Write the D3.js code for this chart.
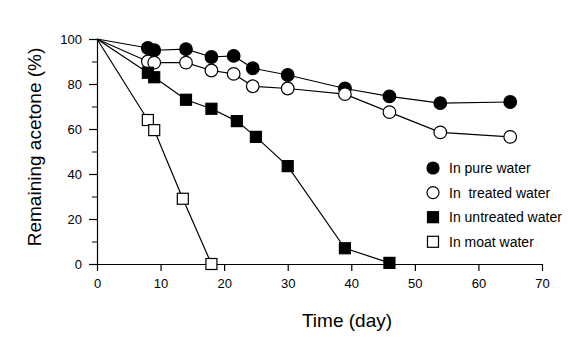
<!DOCTYPE html>
<html>
<head>
<meta charset="utf-8">
<script src="https://cdn.jsdelivr.net/npm/d3@7"></script>
<style>
  body { margin: 0; background: #fff; }
  svg { display: block; font-family: Arial, "Liberation Sans", sans-serif; }
</style>
</head>
<body>
<svg id="chart"></svg>
<script>
const width = 583;
const height = 351;

const margin = {top: 39, right: 41, bottom: 87, left: 97};
const chartWidth = width - margin.left - margin.right;
const chartHeight = height - margin.top - margin.bottom;

// [day, remaining %]
const pureWater = [[0,100],[8,96],[9,95],[14,95.5],[18,92],[21.5,92.5],[24.5,87],[30,84],[39,78],[46,74.5],[54,71.5],[65,72]];
const treatedWater = [[0,100],[8,90],[9,89.5],[14,89.5],[18,86],[21.5,84.5],[24.5,79],[30,78],[39,75.5],[46,67.5],[54,58.5],[65,56.5]];
const untreatedWater = [[0,100],[8,85],[9,83],[14,73],[18,69],[22,63.5],[25,56.5],[30,43.5],[39,7],[46,0.5]];
const moatWater = [[0,100],[8,64],[9,59.5],[13.5,29],[18,0]];

const xTicks = [0,10,20,30,40,50,60,70];
const yTicks = [0,20,40,60,80,100];
const yMinorTicks = [10,30,50,70,90];

const series = [
  {name: "In pure water", data: pureWater, shape: "circle", fill: "#000"},
  {name: "In  treated water", data: treatedWater, shape: "circle", fill: "#fff"},
  {name: "In untreated water", data: untreatedWater, shape: "square", fill: "#000"},
  {name: "In moat water", data: moatWater, shape: "square", fill: "#fff"}
];

const svg = d3.select("#chart")
  .attr("width", width)
  .attr("height", height);

const g = svg.append("g")
  .attr("transform", `translate(${margin.left},${margin.top})`);

const xScale = d3.scaleLinear().domain([0, 70]).range([0, chartWidth]);
const yScale = d3.scaleLinear().domain([0, 100]).range([chartHeight, 0]);

// minor y ticks
g.append("g")
  .call(d3.axisLeft(yScale).tickValues(yMinorTicks).tickSize(5).tickFormat(""))
  .call(a => a.select(".domain").remove());

const xAxis = g.append("g")
  .attr("transform", `translate(0,${chartHeight})`)
  .call(d3.axisBottom(xScale).tickValues(xTicks).tickSize(7).tickSizeOuter(0).tickPadding(8));

const yAxis = g.append("g")
  .call(d3.axisLeft(yScale).tickValues(yTicks).tickSize(8).tickSizeOuter(0).tickPadding(7));

[xAxis, yAxis].forEach(a => {
  a.selectAll("text").attr("font-size", 13).attr("fill", "#000").attr("font-family", "Arial, 'Liberation Sans', sans-serif");
  a.selectAll("line, path").attr("stroke", "#000").attr("stroke-width", 1.2);
});

const line = d3.line()
  .x(d => xScale(d[0]))
  .y(d => yScale(d[1]));

series.forEach(s => {
  g.append("path")
    .datum(s.data)
    .attr("fill", "none")
    .attr("stroke", "#000")
    .attr("stroke-width", 1.2)
    .attr("d", line);
});

function drawMarker(sel, s, x, y, r, side) {
  if (s.shape === "circle") {
    sel.append("circle")
      .attr("cx", x).attr("cy", y).attr("r", r)
      .attr("fill", s.fill).attr("stroke", "#000").attr("stroke-width", 1.2);
  } else {
    sel.append("rect")
      .attr("x", x - side / 2).attr("y", y - side / 2)
      .attr("width", side).attr("height", side)
      .attr("fill", s.fill).attr("stroke", "#000").attr("stroke-width", 1.2);
  }
}

series.forEach(s => {
  const m = g.append("g");
  s.data.slice(1).forEach(d => drawMarker(m, s, xScale(d[0]), yScale(d[1]), 6.3, 11));
});

// legend
const legend = svg.append("g").attr("transform", "translate(433,168)");
series.forEach((s, i) => {
  const row = legend.append("g").attr("transform", `translate(0,${i * 24.6})`);
  drawMarker(row, s, 0, 0, 6, 11);
  row.append("text")
    .attr("x", 16).attr("y", 5)
    .attr("font-size", 14)
    .attr("fill", "#000")
    .style("white-space", "pre")
    .attr("xml:space", "preserve")
    .text(s.name);
});

svg.append("text")
  .attr("x", 347).attr("y", 327)
  .attr("text-anchor", "middle")
  .attr("font-size", 19)
  .text("Time (day)");

svg.append("text")
  .attr("transform", "translate(41,147) rotate(-90)")
  .attr("text-anchor", "middle")
  .attr("font-size", 19)
  .text("Remaining acetone (%)");
</script>
</body>
</html>
